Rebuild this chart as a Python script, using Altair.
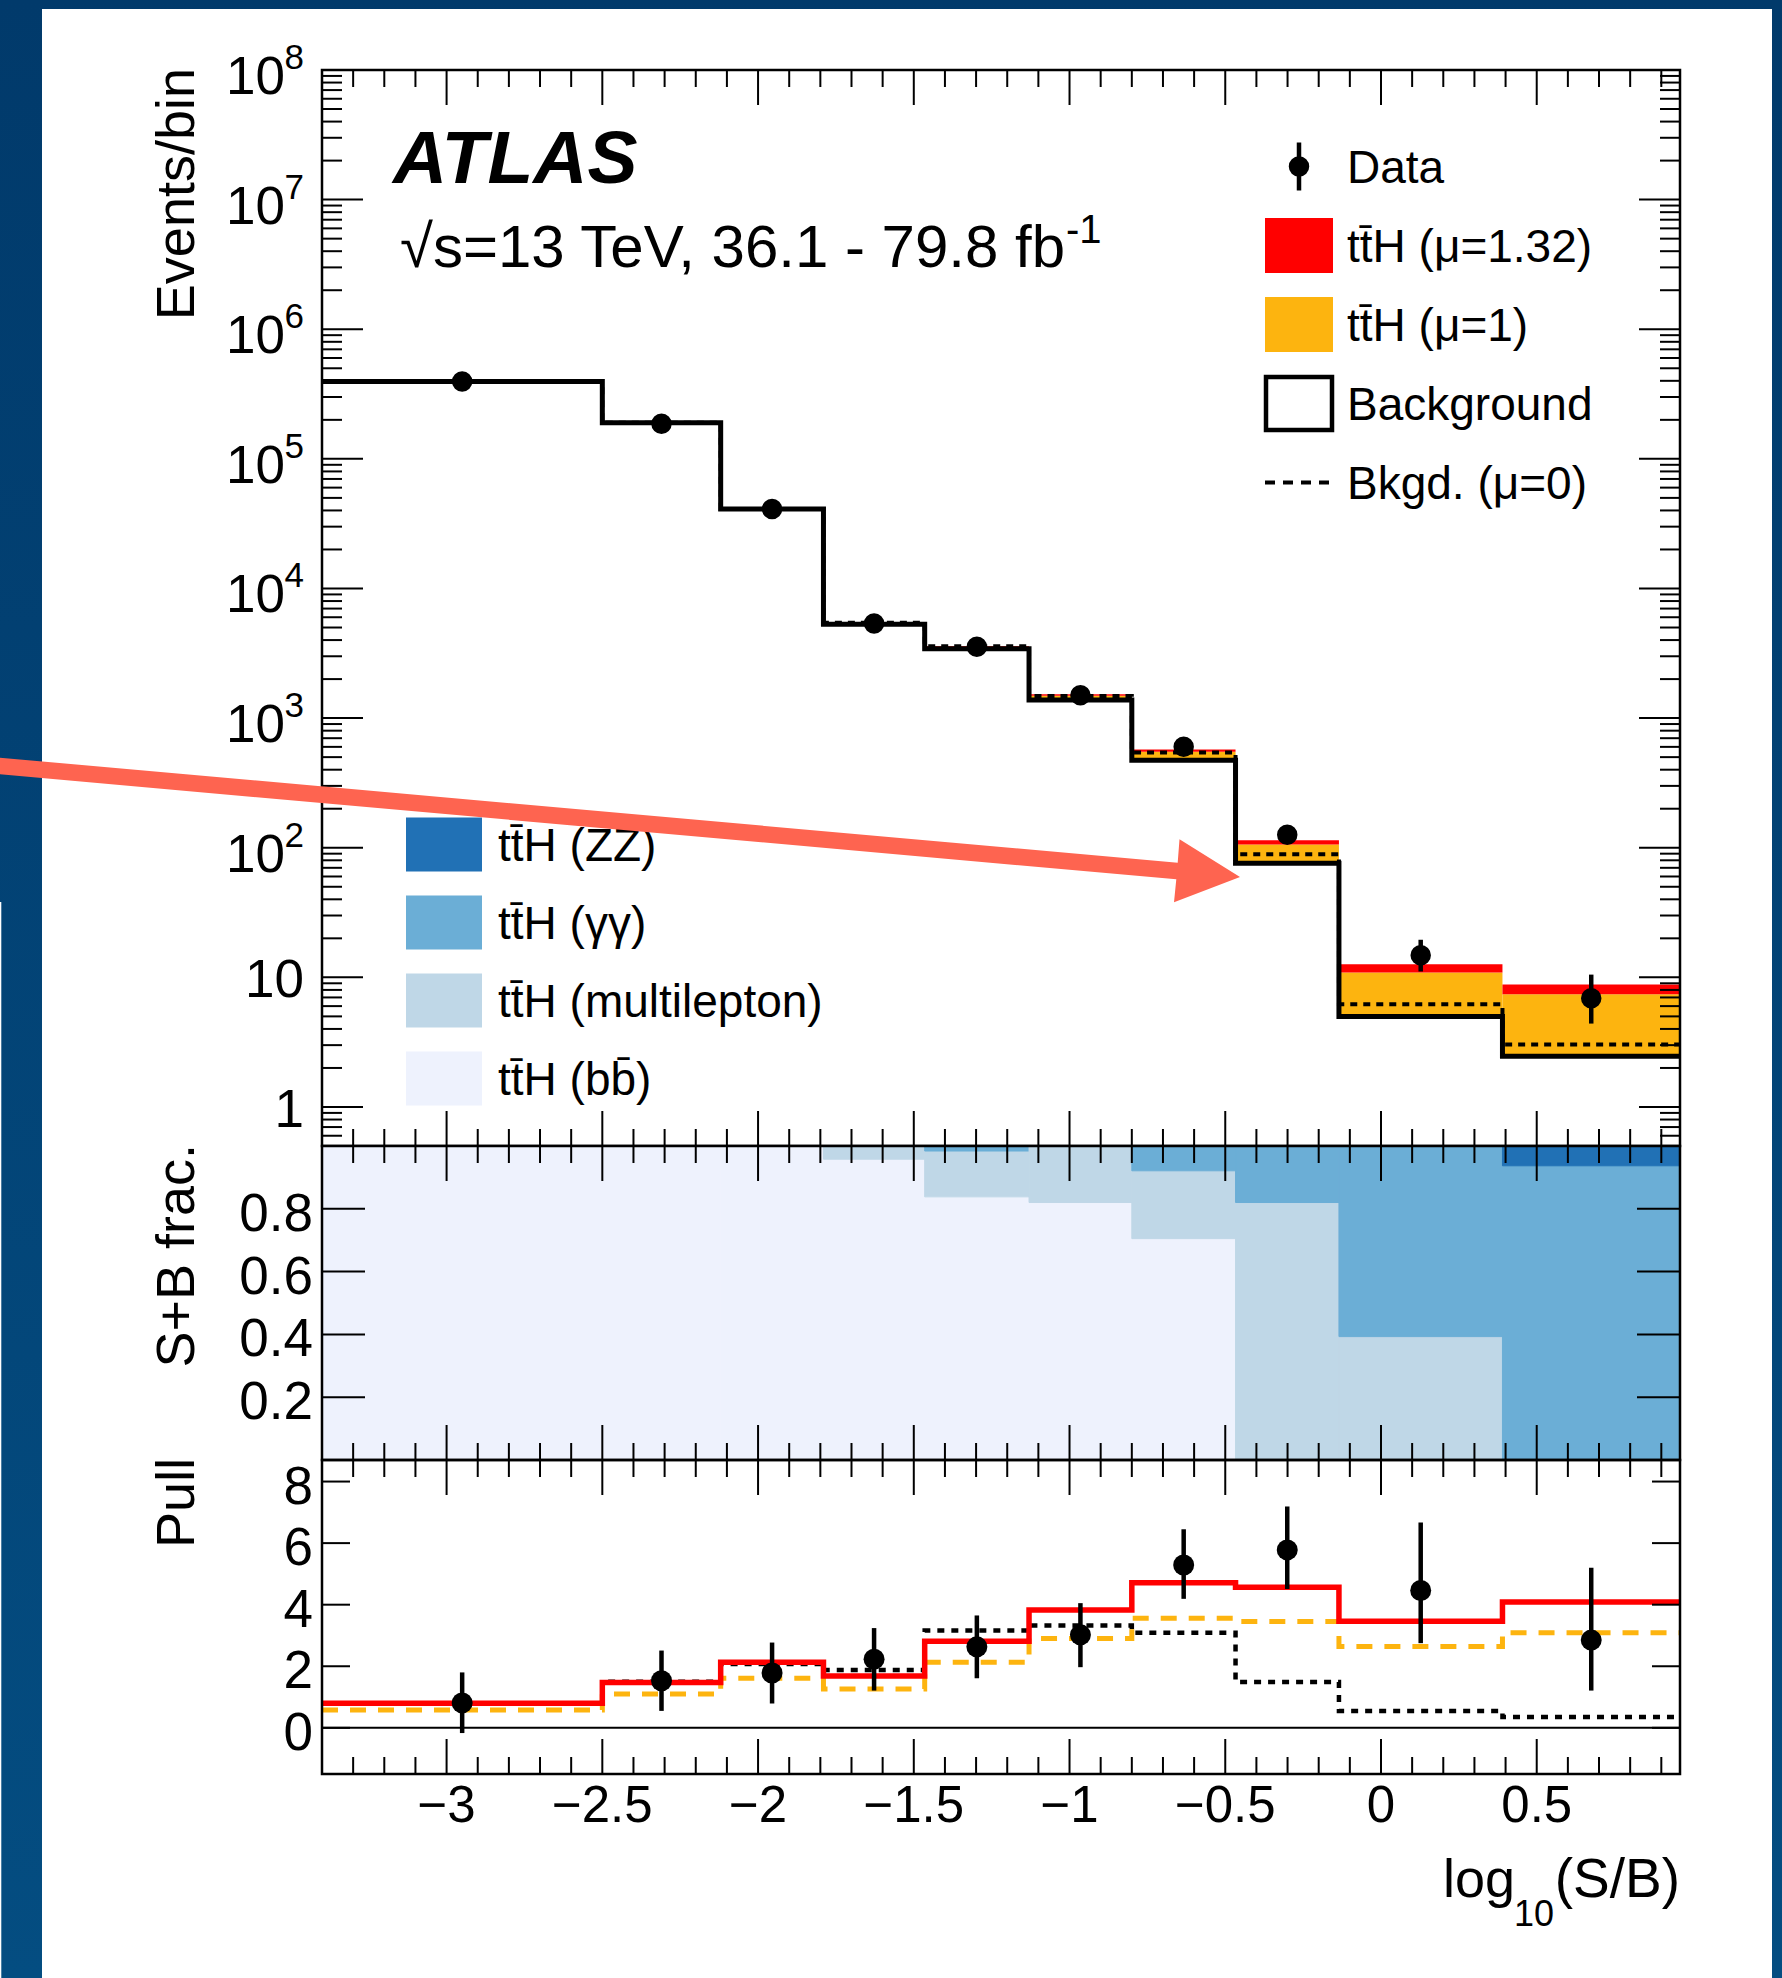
import altair as alt
import pandas as pd
import numpy as np

# ---------------- data ----------------
bin_edges = [-3.4, -2.5, -2.12, -1.79, -1.465, -1.13, -0.80, -0.467, -0.135, 0.39, 0.96]

# top panel: events per bin
bkg_fit = [3.95e5, 1.90e5, 4.10e4, 5.30e3, 3.43e3, 1.38e3, 474.0, 76.0, 5.0, 2.46]
tth_mu1_top = [3.95e5, 1.90e5, 4.10e4, 5.42e3, 3.55e3, 1.49e3, 550.0, 106.0, 10.9, 7.4]
tth_fit_top = [3.96e5, 1.91e5, 4.12e4, 5.46e3, 3.60e3, 1.53e3, 573.0, 114.0, 12.6, 8.8]
bkg_mu0 = [3.95e5, 1.90e5, 4.10e4, 5.45e3, 3.58e3, 1.48e3, 543.0, 89.0, 6.2, 3.04]
data_n = [3.95e5, 1.87e5, 4.10e4, 5.38e3, 3.55e3, 1.50e3, 600.0, 126.0, 14.8, 6.9]
data_lo = [3.94e5, 1.866e5, 4.08e4, 5.31e3, 3.49e3, 1.46e3, 576.0, 115.0, 11.1, 4.4]
data_hi = [3.96e5, 1.874e5, 4.12e4, 5.45e3, 3.61e3, 1.54e3, 624.0, 137.0, 19.5, 10.5]

# middle panel: signal composition (fractions, bottom to top)
frac_channels = ["ttH (bb)", "ttH (multilepton)", "ttH (yy)", "ttH (ZZ)"]
frac_bb = [1.0, 1.0, 1.0, 0.958, 0.838, 0.82, 0.705, 0.0, 0.0, 0.0]
frac_ml = [0.0, 0.0, 0.0, 0.042, 0.146, 0.18, 0.216, 0.82, 0.393, 0.0]
frac_yy = [0.0, 0.0, 0.0, 0.0, 0.016, 0.0, 0.079, 0.18, 0.607, 0.937]
frac_zz = [0.0, 0.0, 0.0, 0.0, 0.0, 0.0, 0.0, 0.0, 0.0, 0.063]
frac_colors = ["#eef2fd", "#bfd7e7", "#6baed6", "#2171b5"]

# bottom panel: pulls
pull_fit = [0.80, 1.47, 2.13, 1.68, 2.81, 3.83, 4.71, 4.57, 3.46, 4.09]
pull_mu1 = [0.58, 1.10, 1.61, 1.26, 2.13, 2.90, 3.56, 3.45, 2.64, 3.09]
pull_mu0 = [0.79, 1.50, 2.07, 1.88, 3.16, 3.32, 3.09, 1.49, 0.55, 0.35]
pull_data = [0.81, 1.53, 1.78, 2.23, 2.63, 3.02, 5.29, 5.78, 4.46, 2.85]
pull_lo = [-0.17, 0.55, 0.79, 1.21, 1.61, 1.97, 4.19, 4.51, 2.75, 1.21]
pull_hi = [1.80, 2.51, 2.77, 3.24, 3.65, 4.05, 6.45, 7.19, 6.67, 5.20]

# axis ticks / labels
x_major = [-3.0, -2.5, -2.0, -1.5, -1.0, -0.5, 0.0, 0.5]
x_labels = ["\u22123", "\u22122.5", "\u22122", "\u22121.5", "\u22121", "\u22120.5", "0", "0.5"]
log_plain = [1, 10]
log_plain_labels = ["1", "10"]
log_exp = [1e2, 1e3, 1e4, 1e5, 1e6, 1e7, 1e8]
log_exp_labels = ["2", "3", "4", "5", "6", "7", "8"]
frac_ticks = [0.2, 0.4, 0.6, 0.8]
frac_labels = ["0.2", "0.4", "0.6", "0.8"]
pull_ticks = [0, 2, 4, 6, 8]
pull_labels = ["0", "2", "4", "6", "8"]

legend1_labels = ["Data", "tt\u0304H (\u03bc=1.32)", "tt\u0304H (\u03bc=1)", "Background", "Bkgd. (\u03bc=0)"]
legend2_labels = ["tt\u0304H (ZZ)", "tt\u0304H (\u03b3\u03b3)", "tt\u0304H (multilepton)", "tt\u0304H (bb\u0304)"]

# ---------------- styling ----------------
FONT = "Liberation Sans"
W = 1358
H_TOP, H_FRAC, H_PULL = 1076, 314, 314
RED = "#ff0000"
ORANGE = "#fdb40f"
ARROW = "#fe6450"

x_minor = [round(v, 2) for v in np.arange(-3.4, 0.95, 0.1)
           if min(abs(v - m) for m in x_major) > 1e-6]
log_major = log_plain + log_exp
log_minor = [k * 10.0 ** n for n in range(-1, 8) for k in range(2, 10)
             if 0.5 <= k * 10.0 ** n <= 1e8]

xscale = alt.Scale(domain=[-3.4, 0.96], nice=False, zero=False)
ylog = alt.Scale(type="log", domain=[0.5, 1e8], nice=False)
yfrac = alt.Scale(domain=[0, 1], nice=False, zero=False)
ypull = alt.Scale(domain=[-1.5, 8.7], nice=False, zero=False)

dummy = pd.DataFrame({"k": [0]})
centers = [(a + b) / 2 for a, b in zip(bin_edges[:-1], bin_edges[1:])]


def pix_text(txt, x, y, size, align="left", weight="normal", style="normal", angle=0):
    return alt.Chart(dummy).mark_text(
        text=txt, align=align, baseline="alphabetic", font=FONT, fontSize=size,
        fontWeight=weight, fontStyle=style, color="black", angle=angle
    ).encode(x=alt.value(x), y=alt.value(y))


def pix_rect(x, x2, y, y2, **kw):
    return alt.Chart(dummy).mark_rect(**kw).encode(
        x=alt.value(x), x2=alt.value(x2), y=alt.value(y), y2=alt.value(y2))


def frame(h):
    return pix_rect(0, W, 0, h, fillOpacity=0, stroke="black", strokeWidth=2.5)


def y_title(txt):
    return pix_text(txt, -128, -2, 54, align="right", angle=270)


def y_labels(vals, labels, yscale, xpos, size, dy):
    df = pd.DataFrame({"v": vals, "t": labels})
    return alt.Chart(df).mark_text(
        align="right", baseline="alphabetic", font=FONT, fontSize=size, dy=dy, color="black"
    ).encode(y=alt.Y("v:Q", scale=yscale, axis=None), x=alt.value(xpos), text="t:N")


def x_ticks(h, major_len=35, minor_len=17):
    out = []
    for vals, L in [(x_major, major_len), (x_minor, minor_len)]:
        base = alt.Chart(pd.DataFrame({"v": vals})).mark_rule(color="black", strokeWidth=2)
        xe = alt.X("v:Q", scale=xscale, axis=None)
        out.append(base.encode(x=xe, y=alt.value(0), y2=alt.value(L)))
        out.append(base.encode(x=xe, y=alt.value(h - L), y2=alt.value(h)))
    return out


def y_ticks(vals_len, yscale):
    out = []
    for vals, L in vals_len:
        base = alt.Chart(pd.DataFrame({"v": vals})).mark_rule(color="black", strokeWidth=2)
        ye = alt.Y("v:Q", scale=yscale, axis=None)
        out.append(base.encode(y=ye, x=alt.value(0), x2=alt.value(L)))
        out.append(base.encode(y=ye, x=alt.value(W - L), x2=alt.value(W)))
    return out


def step_line(vals, yscale, color, width, dash=None):
    df = pd.DataFrame({"x": bin_edges, "y": list(vals) + [vals[-1]]})
    kw = dict(color=color, strokeWidth=width, interpolate="step-after")
    if dash:
        kw["strokeDash"] = dash
    return alt.Chart(df).mark_line(**kw).encode(
        x=alt.X("x:Q", scale=xscale, axis=None),
        y=alt.Y("y:Q", scale=yscale, axis=None))


# ---------------- top panel ----------------
bins_df = pd.DataFrame({
    "x0": bin_edges[:-1], "x1": bin_edges[1:],
    "bkg": bkg_fit, "mu1": tth_mu1_top, "fit": tth_fit_top,
})

bg = pix_rect(-322, 1460, -70, 1908, strokeWidth=0, color=alt.LinearGradient(
    gradient="linear",
    stops=[alt.GradientStop(color="#013a6b", offset=0), alt.GradientStop(color="#044d81", offset=1)],
    x1=0, x2=0, y1=0, y2=1))
white = pix_rect(-280, 1450, -61, 1908, color="white", strokeWidth=0)
strip = pix_rect(-322, -320.7, 832, 1908, color="white", strokeWidth=0)

orange = alt.Chart(bins_df).mark_rect(color=ORANGE).encode(
    x=alt.X("x0:Q", scale=xscale, axis=None), x2="x1:Q",
    y=alt.Y("bkg:Q", scale=ylog, axis=None), y2="mu1:Q")
red = alt.Chart(bins_df).mark_rect(color=RED).encode(
    x=alt.X("x0:Q", scale=xscale, axis=None), x2="x1:Q",
    y=alt.Y("mu1:Q", scale=ylog, axis=None), y2="fit:Q")
bkg_line = step_line(bkg_fit, ylog, "black", 5)
mu0_line = step_line(bkg_mu0, ylog, "black", 4, [7, 6])

data_df = pd.DataFrame({"x": centers, "n": data_n, "lo": data_lo, "hi": data_hi})
err_top = alt.Chart(data_df).mark_rule(color="black", strokeWidth=4.5).encode(
    x=alt.X("x:Q", scale=xscale, axis=None),
    y=alt.Y("lo:Q", scale=ylog, axis=None), y2="hi:Q")
pts_top = alt.Chart(data_df).mark_circle(size=420, color="black", opacity=1).encode(
    x=alt.X("x:Q", scale=xscale, axis=None),
    y=alt.Y("n:Q", scale=ylog, axis=None))

texts = [
    pix_text("ATLAS", 71, 112.5, 75, weight="bold", style="italic"),
    pix_text("\u221as=13 TeV, 36.1 - 79.8 fb", 78, 196.5, 60),
    pix_text("-1", 744, 172.5, 40),
]

top_axis = [
    y_labels(log_plain, log_plain_labels, ylog, -18, 53, 20),
    y_labels(log_exp, ["10"] * len(log_exp), ylog, -37, 53, 24),
    y_labels(log_exp, log_exp_labels, ylog, -18, 35, -1),
    y_title("Events/bin"),
]

# legend 1 (upper right)
leg1 = []
l1_y = [96.5 + 79 * i for i in range(len(legend1_labels))]
leg1.append(alt.Chart(dummy).mark_rule(color="black", strokeWidth=4.5).encode(
    x=alt.value(977), y=alt.value(l1_y[0] - 24), y2=alt.value(l1_y[0] + 24)))
leg1.append(alt.Chart(dummy).mark_circle(size=420, color="black", opacity=1).encode(
    x=alt.value(977), y=alt.value(l1_y[0])))
leg1.append(pix_rect(943, 1011, l1_y[1] - 27.5, l1_y[1] + 27.5, color=RED, strokeWidth=0))
leg1.append(pix_rect(943, 1011, l1_y[2] - 27.5, l1_y[2] + 27.5, color=ORANGE, strokeWidth=0))
leg1.append(pix_rect(944, 1010, l1_y[3] - 26.5, l1_y[3] + 26.5, fill="white",
                     stroke="black", strokeWidth=4.5))
leg1.append(alt.Chart(dummy).mark_rule(color="black", strokeWidth=4, strokeDash=[10, 8]).encode(
    x=alt.value(943), x2=alt.value(1007), y=alt.value(l1_y[4]), y2=alt.value(l1_y[4])))
for lab, yc in zip(legend1_labels, l1_y):
    leg1.append(pix_text(lab, 1025, yc + 16.5, 46))

# legend 2 (lower left)
leg2 = []
l2_y = [774.5 + 78 * i for i in range(len(legend2_labels))]
for lab, yc, col in zip(legend2_labels, l2_y, frac_colors[::-1]):
    leg2.append(pix_rect(84, 160, yc - 27, yc + 27, color=col, strokeWidth=0))
    leg2.append(pix_text(lab, 176, yc + 16.5, 46))

# annotation arrow (one filled polygon, pixel coordinates relative to the top panel)
arrow_path = ("M-322,687.7 L855.7,792.7 L857.5,769.3 L918,807 L852,832.3 "
              "L854.3,809.3 L-322,704.3 Z")
arrow = alt.Chart(dummy).mark_point(
    shape=arrow_path, size=4, filled=True, color=ARROW, opacity=1, strokeWidth=0
).encode(x=alt.value(0), y=alt.value(0))

top_layers = ([bg, white, strip, orange, red, bkg_line, mu0_line, err_top, pts_top]
              + x_ticks(H_TOP)
              + y_ticks([(log_major, 41), (log_minor, 20)], ylog)
              + [frame(H_TOP)] + top_axis + texts + leg1 + leg2 + [arrow])
top = alt.layer(*top_layers).properties(width=W, height=H_TOP)

# ---------------- fraction panel ----------------
rows = []
for i in range(len(centers)):
    lo = 0.0
    for ch, fr in zip(frac_channels, [frac_bb[i], frac_ml[i], frac_yy[i], frac_zz[i]]):
        if fr > 0:
            rows.append({"x0": bin_edges[i], "x1": bin_edges[i + 1], "lo": lo, "hi": lo + fr, "ch": ch})
        lo += fr
frac_df = pd.DataFrame(rows)
frac_scale = alt.Scale(domain=frac_channels, range=frac_colors)
frac_rects = alt.Chart(frac_df).mark_rect(strokeWidth=1).encode(
    x=alt.X("x0:Q", scale=xscale, axis=None), x2="x1:Q",
    y=alt.Y("lo:Q", scale=yfrac, axis=None), y2="hi:Q",
    color=alt.Color("ch:N", scale=frac_scale, legend=None),
    stroke=alt.Stroke("ch:N", scale=frac_scale, legend=None))
frac_layers = ([frac_rects] + x_ticks(H_FRAC) + y_ticks([(frac_ticks, 43)], yfrac)
               + [frame(H_FRAC),
                  y_labels(frac_ticks, frac_labels, yfrac, -9, 53, 22),
                  y_title("S+B frac.")])
frac = alt.layer(*frac_layers).properties(width=W, height=H_FRAC)

# ---------------- pull panel ----------------
zero = alt.Chart(pd.DataFrame({"z": [0]})).mark_rule(color="black", strokeWidth=2).encode(
    y=alt.Y("z:Q", scale=ypull, axis=None), x=alt.value(0), x2=alt.value(W))
p_mu0 = step_line(pull_mu0, ypull, "black", 4.5, [7, 7])
p_mu1 = step_line(pull_mu1, ypull, ORANGE, 5, [16, 12])
p_fit = step_line(pull_fit, ypull, RED, 5.5)
pull_df = pd.DataFrame({"x": centers, "p": pull_data, "lo": pull_lo, "hi": pull_hi})
p_err = alt.Chart(pull_df).mark_rule(color="black", strokeWidth=4.5).encode(
    x=alt.X("x:Q", scale=xscale, axis=None),
    y=alt.Y("lo:Q", scale=ypull, axis=None), y2="hi:Q")
p_pts = alt.Chart(pull_df).mark_circle(size=440, color="black", opacity=1).encode(
    x=alt.X("x:Q", scale=xscale, axis=None),
    y=alt.Y("p:Q", scale=ypull, axis=None))
xlab_df = pd.DataFrame({"v": x_major, "t": x_labels})
x_tick_labels = alt.Chart(xlab_df).mark_text(
    align="center", baseline="alphabetic", font=FONT, fontSize=51, color="black"
).encode(x=alt.X("v:Q", scale=xscale, axis=None), y=alt.value(362), text="t:N")
x_title = [
    pix_text("log", 1193, 437, 54, align="right"),
    pix_text("10", 1232, 466, 36, align="right"),
    pix_text("(S/B)", 1358, 437, 55, align="right"),
]
pull_layers = ([zero, p_mu0, p_mu1, p_fit, p_err, p_pts] + x_ticks(H_PULL)
               + y_ticks([(pull_ticks, 28)], ypull)
               + [frame(H_PULL), x_tick_labels,
                  y_labels(pull_ticks, pull_labels, ypull, -9, 53, 22),
                  y_title("Pull")] + x_title)
pull = alt.layer(*pull_layers).properties(width=W, height=H_PULL)

chart = alt.vconcat(top, frac, pull, spacing=0).properties(
    bounds="flush", padding=0, background="#013a6b"
).configure_view(strokeOpacity=0, strokeWidth=0)

chart.save("out.html", embed_options={"renderer": "svg", "actions": False})
